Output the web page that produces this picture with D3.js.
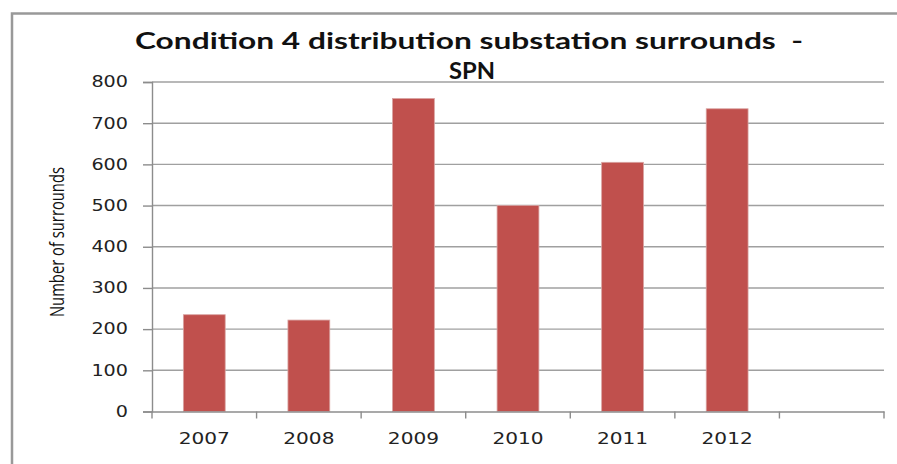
<!DOCTYPE html>
<html>
<head>
<meta charset="utf-8">
<script src="https://cdn.jsdelivr.net/npm/d3@7"></script>
<style>
  html, body { margin: 0; padding: 0; background: #fff; }
  svg { display: block; }
  text { white-space: pre; }
</style>
</head>
<body>
<svg id="chart" width="897" height="464"></svg>
<script>
// Condition 4 distribution substation surrounds, SPN region, by year
const categories = ["2007", "2008", "2009", "2010", "2011", "2012", ""];
const years = ["2007", "2008", "2009", "2010", "2011", "2012"];
const surrounds = [235, 222, 760, 500, 605, 735];
const yTicks = [0, 100, 200, 300, 400, 500, 600, 700, 800];
const titleLines = ["Condition 4 distribution substation surrounds  -", "SPN"];
const yTitle = "Number of surrounds";

const svg = d3.select("#chart");
const W = 897, H = 464;
const plot = { left: 152, right: 884, top: 82, bottom: 411.5 };

const x = d3.scaleBand()
  .domain(categories)
  .range([plot.left, plot.right])
  .paddingInner(0)
  .paddingOuter(0);

const y = d3.scaleLinear()
  .domain([0, 800])
  .range([plot.bottom, plot.top]);

// chart area frame
svg.append("rect")
  .attr("x", 12).attr("y", 13.5)
  .attr("width", W + 20).attr("height", H + 20)
  .attr("fill", "#fff")
  .attr("stroke", "#999")
  .attr("stroke-width", 2.5);

// horizontal gridlines
svg.append("g")
  .selectAll("line")
  .data(yTicks.filter(d => d > 0))
  .join("line")
  .attr("x1", plot.left).attr("x2", plot.right)
  .attr("y1", d => y(d)).attr("y2", d => y(d))
  .attr("stroke", "#a0a0a0")
  .attr("stroke-width", 1.4);

// bars
const barW = x.bandwidth() * 0.4;
svg.append("g")
  .selectAll("rect")
  .data(years.map((yr, i) => ({ yr, v: surrounds[i] })))
  .join("rect")
  .attr("x", d => x(d.yr) + (x.bandwidth() - barW) / 2)
  .attr("y", d => y(d.v))
  .attr("width", barW)
  .attr("height", d => y(0) - y(d.v))
  .attr("fill", "#C0504D")
  .attr("stroke", "#d9a3a2")
  .attr("stroke-width", 0.8);

// y axis
const yAxis = svg.append("g")
  .attr("transform", `translate(${plot.left},0)`)
  .call(d3.axisLeft(y).tickValues(yTicks).tickSize(9).tickPadding(15));
yAxis.select(".domain").attr("stroke", "#8c8c8c").attr("stroke-width", 1.4);
yAxis.selectAll(".tick line").attr("stroke", "#8c8c8c").attr("stroke-width", 1.4);
yAxis.selectAll(".tick text")
  .attr("font-family", "DejaVu Sans, Verdana, sans-serif")
  .attr("font-size", 15)
  .attr("fill", "#222")
  .attr("textLength", d => String(d).length * 12.2)
  .attr("lengthAdjust", "spacingAndGlyphs");

// x axis: category labels, boundary ticks drawn at band edges
const xAxis = svg.append("g")
  .attr("transform", `translate(0,${plot.bottom})`)
  .call(d3.axisBottom(x).tickSize(0).tickPadding(22));
xAxis.select(".domain").attr("stroke", "#8c8c8c").attr("stroke-width", 1.4);
xAxis.selectAll(".tick text")
  .attr("font-family", "DejaVu Sans, Verdana, sans-serif")
  .attr("font-size", 15)
  .attr("fill", "#222")
  .attr("textLength", d => String(d).length * 12.8)
  .attr("lengthAdjust", "spacingAndGlyphs");

const edges = categories.map(c => x(c)).concat([plot.right]);
xAxis.append("g")
  .selectAll("line")
  .data(edges)
  .join("line")
  .attr("x1", d => d).attr("x2", d => d)
  .attr("y1", 0).attr("y2", 7)
  .attr("stroke", "#8c8c8c")
  .attr("stroke-width", 1.4);

// y axis title
svg.append("text")
  .attr("transform", `translate(64,242) rotate(-90)`)
  .attr("text-anchor", "middle")
  .attr("font-family", "'Open Sans', sans-serif")
  .attr("font-size", 20)
  .attr("fill", "#111")
  .attr("textLength", 150)
  .attr("lengthAdjust", "spacingAndGlyphs")
  .text(yTitle);

// chart title
svg.append("text")
  .attr("x", 135).attr("y", 48.5)
  .attr("font-family", "Lato, 'Open Sans', sans-serif")
  .attr("font-weight", "bold")
  .attr("font-size", 23)
  .attr("fill", "#111")
  .attr("textLength", 668)
  .attr("lengthAdjust", "spacingAndGlyphs")
  .text(titleLines[0]);
svg.append("text")
  .attr("x", 472).attr("y", 79)
  .attr("text-anchor", "middle")
  .attr("font-family", "Lato, 'Open Sans', sans-serif")
  .attr("font-weight", "bold")
  .attr("font-size", 23)
  .attr("fill", "#111")
  .attr("textLength", 46)
  .attr("lengthAdjust", "spacingAndGlyphs")
  .text(titleLines[1]);
</script>
</body>
</html>
